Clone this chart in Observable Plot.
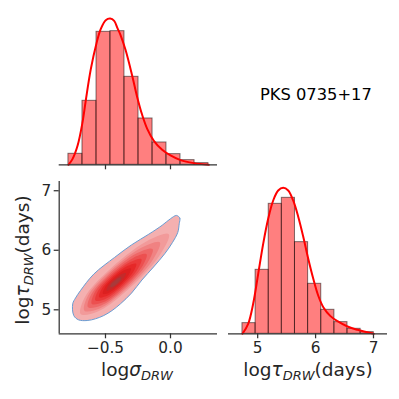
<!DOCTYPE html>
<html>
<head>
<meta charset="utf-8">
<script src="https://cdn.jsdelivr.net/npm/d3@7"></script>
<script src="https://cdn.jsdelivr.net/npm/@observablehq/plot@0.6"></script>
<style>
  html, body { margin: 0; padding: 0; background: #fff; }
  #chart { position: relative; width: 399px; height: 399px; overflow: hidden; font-family: "DejaVu Sans", sans-serif; }
  #chart svg { position: absolute; left: 0; top: 0; }
</style>
</head>
<body>
<div id="chart"></div>
<script>
// ---------------- data ----------------
const title = "PKS 0735+17";

// log sigma_DRW histogram (relative counts) and KDE
const sigmaEdges  = [-0.785, -0.677, -0.569, -0.462, -0.354, -0.246, -0.138, -0.031, 0.077, 0.185, 0.292];
const sigmaCounts = [33, 192, 399, 401, 264, 139, 67, 32, 14, 5];
const sigmaKdeX = [-0.785, -0.754, -0.715, -0.677, -0.652, -0.613, -0.569, -0.536, -0.498, -0.464, -0.433, -0.408, -0.385, -0.346, -0.295, -0.256, -0.218, -0.179, -0.128, -0.064, 0.0, 0.077, 0.179, 0.294];
const sigmaKdeY = [0, 17, 57, 127, 192, 287, 365, 408, 434, 439, 432, 410, 390, 345, 268, 203, 150, 108, 72, 45, 28, 14, 5, 0];

// log tau_DRW histogram (relative counts) and KDE
const tauEdges  = [4.737, 4.964, 5.191, 5.417, 5.644, 5.871, 6.098, 6.325, 6.551, 6.778, 7.005];
const tauCounts = [32, 192, 390, 408, 275, 150, 72, 35, 15, 5];
const tauKdeX = [4.737, 4.836, 4.922, 5.009, 5.095, 5.181, 5.268, 5.354, 5.440, 5.527, 5.613, 5.699, 5.786, 5.872, 5.959, 6.045, 6.136, 6.257, 6.378, 6.551, 6.724, 7.005];
const tauKdeY = [0, 30, 90, 180, 270, 345, 400, 430, 438, 430, 400, 352, 292, 226, 166, 115, 79, 53, 38, 22, 12, 0];

// 2D density contours (logsigma, logtau), outermost first
const contourLevels = [
  [[0.046,6.585],[0.072,6.54],[0.067,6.445],[0.056,6.30],[0.015,6.13],[-0.045,5.94],[-0.130,5.72],[-0.220,5.50],[-0.300,5.28],[-0.385,5.10],[-0.449,4.988],[-0.513,4.904],[-0.577,4.849],[-0.641,4.82],[-0.708,4.832],[-0.744,4.904],[-0.752,5.10],[-0.730,5.20],[-0.692,5.324],[-0.590,5.60],[-0.430,5.88],[-0.300,6.09],[-0.167,6.27],[-0.064,6.42],[0.0,6.53]],
  [[-0.013,6.270],[-0.183,6.151],[-0.493,5.627],[-0.661,5.204],[-0.691,4.930],[-0.563,4.967],[-0.353,5.291],[-0.084,5.914]],
  [[-0.082,6.135],[-0.225,6.042],[-0.485,5.608],[-0.636,5.230],[-0.662,4.986],[-0.548,5.019],[-0.361,5.310],[-0.138,5.831]],
  [[-0.138,6.022],[-0.260,5.949],[-0.477,5.590],[-0.610,5.257],[-0.634,5.042],[-0.534,5.072],[-0.369,5.328],[-0.184,5.765]],
  [[-0.184,5.932],[-0.287,5.872],[-0.469,5.571],[-0.585,5.283],[-0.605,5.099],[-0.519,5.125],[-0.377,5.347],[-0.221,5.714]],
  [[-0.224,5.853],[-0.309,5.804],[-0.462,5.552],[-0.559,5.310],[-0.577,5.155],[-0.504,5.178],[-0.384,5.366],[-0.255,5.672]],
  [[-0.264,5.774],[-0.332,5.735],[-0.454,5.534],[-0.533,5.337],[-0.548,5.211],[-0.490,5.231],[-0.392,5.384],[-0.288,5.629]],
  [[-0.304,5.696],[-0.355,5.667],[-0.447,5.516],[-0.508,5.364],[-0.520,5.268],[-0.475,5.283],[-0.399,5.402],[-0.322,5.586]],
  [[-0.343,5.617],[-0.378,5.599],[-0.440,5.499],[-0.483,5.392],[-0.491,5.324],[-0.460,5.335],[-0.406,5.419],[-0.355,5.542]],
  [[-0.378,5.549],[-0.398,5.540],[-0.433,5.484],[-0.459,5.421],[-0.463,5.380],[-0.444,5.386],[-0.413,5.434],[-0.384,5.505]]
];
const contourColors = ["#f4b0b0", "#f29a9a", "#f08282", "#ee6868", "#ec5050", "#ea3a3a", "#e62828", "#dc2020", "#c42a2a", "#a83a3a"];

const sigmaTicks = [-0.5, 0.0];
const tauTicks = [5, 6, 7];

// ---------------- build ----------------
const sigmaBins = sigmaCounts.map((c, i) => ({x1: sigmaEdges[i], x2: sigmaEdges[i + 1], y: c}));
const tauBins = tauCounts.map((c, i) => ({x1: tauEdges[i], x2: tauEdges[i + 1], y: c}));
const sigmaKde = sigmaKdeX.map((x, i) => ({x, y: sigmaKdeY[i]}));
const tauKde = tauKdeX.map((x, i) => ({x, y: tauKdeY[i]}));

const spine = "#333333";
const textCol = "#262626";
const baseStyle = {background: "transparent", fontFamily: "DejaVu Sans", fontSize: "15.3px", color: textCol, overflow: "visible"};
const sigmaDomain = [-0.856, 0.3615];
const tauYDomain = [4.597, 7.155];
const tauXDomain = [4.496, 7.242];
const histMax = 457;
const fmt1 = d3.format(".1f");
const fmt0 = d3.format("d");

const histMarks = (bins, kde, ticks, tickFmt) => [
  Plot.rectY(bins, {x1: "x1", x2: "x2", y: "y", fill: "#ff0000", fillOpacity: 0.5, stroke: "#000", strokeOpacity: 0.5, strokeWidth: 1, inset: 0}),
  Plot.line(kde, {x: "x", y: "y", stroke: "#ff0000", strokeWidth: 2, curve: "catmull-rom"}),
  Plot.ruleY([0], {stroke: spine, strokeWidth: 1.25}),
  Plot.axisX({ticks, tickFormat: tickFmt, tickSize: 5, tickPadding: 3, stroke: spine, strokeWidth: 1.25, fill: textCol, label: null})
];

// top-left: logsigma histogram
const pA = Plot.plot({
  width: 399, height: 399,
  marginLeft: 58.7, marginRight: 182, marginTop: 12, marginBottom: 234.7,
  x: {domain: sigmaDomain}, y: {domain: [0, histMax], axis: null},
  style: baseStyle,
  marks: histMarks(sigmaBins, sigmaKde, sigmaTicks, () => "")
});

// bottom-left: 2D density
const contourMarks = contourLevels.map((pts, i) => Plot.line(pts, {
  x: d => d[0], y: d => d[1], fill: contourColors[i],
  stroke: i === 0 ? "#6a9cd2" : "none", strokeWidth: 1,
  curve: "catmull-rom-closed"
}));
const pC = Plot.plot({
  width: 399, height: 399,
  marginLeft: 58.7, marginRight: 182, marginTop: 181, marginBottom: 65.7,
  x: {domain: sigmaDomain}, y: {domain: tauYDomain},
  style: baseStyle,
  marks: [
    ...contourMarks,
    Plot.ruleX([sigmaDomain[0]], {stroke: spine, strokeWidth: 1.25}),
    Plot.ruleY([tauYDomain[0]], {stroke: spine, strokeWidth: 1.25}),
    Plot.axisX({ticks: sigmaTicks, tickFormat: fmt1, tickSize: 5, tickPadding: 3, stroke: spine, strokeWidth: 1.25, fill: textCol, label: null}),
    Plot.axisY({ticks: tauTicks, tickFormat: fmt0, tickSize: 5, tickPadding: 3, stroke: spine, strokeWidth: 1.25, fill: textCol, label: null})
  ]
});

// bottom-right: logtau histogram
const pD = Plot.plot({
  width: 399, height: 399,
  marginLeft: 228, marginRight: 12, marginTop: 181, marginBottom: 65.7,
  x: {domain: tauXDomain}, y: {domain: [0, histMax], axis: null},
  style: baseStyle,
  marks: histMarks(tauBins, tauKde, tauTicks, fmt0)
});

const chart = document.getElementById("chart");
chart.append(pA, pC, pD);

// text overlay: axis labels and title
const ov = d3.select(chart).append("svg")
  .attr("width", 399).attr("height", 399)
  .style("font-family", "DejaVu Sans").style("fill", textCol);

ov.append("text").attr("x", 260).attr("y", 100).style("font-size", "16.3px").style("fill", "#000").text(title);

function mathLabel(g, parts) {
  const t = g.append("text").attr("text-anchor", "middle").style("font-size", "18.5px");
  t.append("tspan").text("log");
  t.append("tspan").style("font-style", "italic").text(parts.sym);
  t.append("tspan").style("font-style", "italic").style("font-size", "13px").attr("dy", 4).text("DRW");
  if (parts.unit) t.append("tspan").attr("dy", -4).text(parts.unit);
  return t;
}
mathLabel(ov, {sym: "σ"}).attr("x", 137).attr("y", 376);
mathLabel(ov, {sym: "τ", unit: "(days)"}).attr("x", 308).attr("y", 376);
mathLabel(ov, {sym: "τ", unit: "(days)"}).attr("transform", "translate(29,260) rotate(-90)");
</script>
</body>
</html>
